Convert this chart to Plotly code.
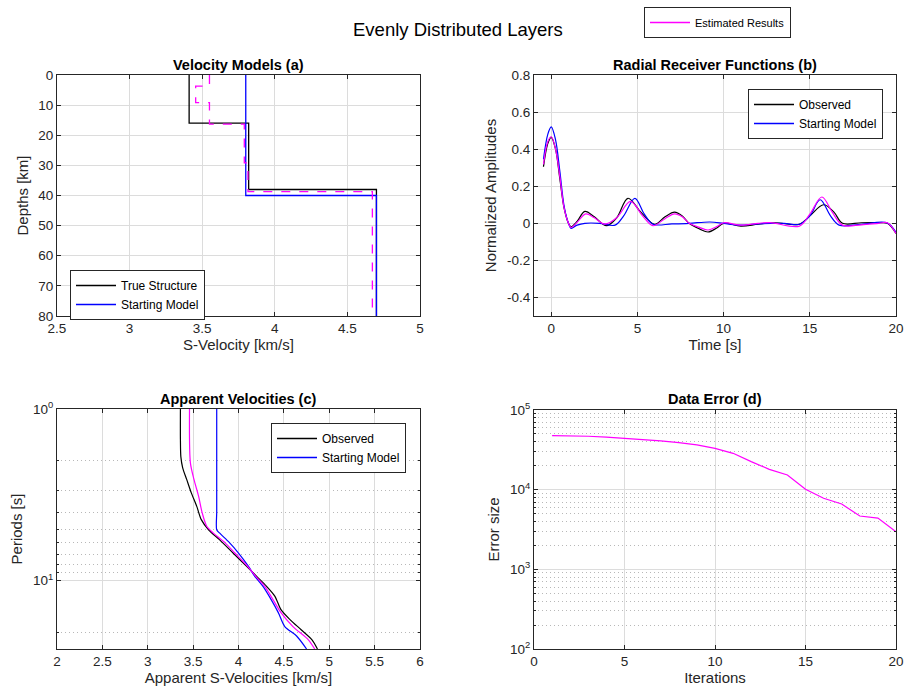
import plotly.graph_objects as go
import numpy as np

# ---------------- data ----------------
# (a) velocity models: layer tops [km] and S-velocities [km/s]
true_tops = [0, 16, 38]
true_vel = [3.41, 3.82, 4.70]
start_tops = [0, 40]
start_vel = [3.80, 4.70]
est_tops = [0, 3.7, 9.2, 16.3, 29.2, 38.7]
est_vel = [3.55, 3.455, 3.55, 3.79, 3.815, 4.672]
model_bottom = 80

# (b) radial receiver functions
obs_t = [-0.45, -0.2, 0.0, 0.25, 0.5, 0.75, 1.0, 1.15, 1.5, 1.95, 2.5, 3.2, 3.8, 4.45, 5.2, 6.0,
         6.6, 7.15, 7.6, 8.0, 8.6, 9.1, 9.6, 10.0, 11.0, 12.0, 13.0, 14.4, 15.0, 15.8, 16.4, 16.9,
         18.0, 19.0, 19.5, 20.0]
obs_a = [0.305, 0.43, 0.464, 0.40, 0.24, 0.08, 0.0, -0.018, 0.01, 0.064, 0.035, -0.013, 0.03, 0.135,
         0.06, -0.005, 0.035, 0.06, 0.04, 0.0, -0.03, -0.047, -0.025, 0.0, -0.015, -0.005, 0.003,
         -0.005, 0.04, 0.10, 0.06, 0.0, 0.003, 0.003, 0.0, -0.055]
start_t = [-0.45, -0.2, 0.0, 0.25, 0.5, 0.75, 1.0, 1.15, 1.5, 1.95, 2.8, 3.7, 4.2, 4.85, 5.4, 5.9,
           7.0, 8.0, 9.2, 10.0, 10.9, 12.0, 13.5, 14.4, 15.0, 15.6, 16.2, 16.7, 18.0, 19.5, 20.0]
start_a = [0.345, 0.48, 0.52, 0.45, 0.28, 0.09, 0.0, -0.027, -0.01, 0.0, 0.0, -0.01, 0.04, 0.135,
           0.05, -0.005, -0.003, 0.0, 0.007, 0.0, -0.01, -0.003, 0.0, -0.005, 0.04, 0.127, 0.04,
           -0.01, -0.005, 0.002, -0.05]
est_t = [-0.45, -0.2, 0.0, 0.25, 0.5, 0.75, 1.0, 1.15, 1.5, 2.0, 2.5, 3.1, 3.8, 4.6, 5.3, 5.9, 6.6,
         7.15, 7.6, 8.0, 8.6, 9.1, 9.6, 10.0, 11.0, 12.0, 12.7, 14.4, 15.0, 15.7, 16.3, 16.9, 18.0,
         19.0, 19.5, 20.0]
est_a = [0.318, 0.44, 0.467, 0.40, 0.25, 0.08, 0.0, -0.022, 0.005, 0.051, 0.03, -0.004, 0.03, 0.118,
         0.04, -0.013, 0.025, 0.051, 0.035, 0.0, -0.022, -0.036, -0.018, 0.003, -0.01, 0.0, 0.004,
         -0.015, 0.05, 0.142, 0.06, -0.01, -0.008, 0.0, 0.003, -0.055]

# (c) apparent velocities vs period
obs_P = [1, 1.5, 1.9, 2.2, 2.58, 3.08, 3.69, 4.41, 5.05, 5.77, 6.9, 8.25, 9.44, 10.8, 12.3, 14.8,
         16.9, 19.3, 22.1, 25]
obs_v = [3.36, 3.36, 3.365, 3.385, 3.43, 3.48, 3.54, 3.59, 3.67, 3.79, 3.94, 4.09, 4.20, 4.31,
         4.40, 4.47, 4.57, 4.69, 4.81, 4.87]
startc_P = [1, 2, 3, 4, 5.05, 5.27, 6.0, 6.9, 8.25, 9.44, 10.8, 12.9, 15.4, 18.5, 21, 25]
startc_v = [3.76, 3.76, 3.76, 3.76, 3.76, 3.79, 3.90, 4.00, 4.11, 4.18, 4.27, 4.36, 4.44, 4.51,
            4.64, 4.75]
estc_P = [1, 2.06, 2.58, 3.22, 4.03, 4.82, 5.27, 6.0, 6.9, 8.25, 9.44, 10.8, 12.9, 15.4, 18.5,
          22.1, 25]
estc_v = [3.46, 3.47, 3.51, 3.56, 3.60, 3.65, 3.72, 3.85, 3.96, 4.10, 4.19, 4.29, 4.38, 4.47, 4.60,
          4.77, 4.84]

# (d) data error
iters = list(range(1, 21))
err = [47700, 47400, 46800, 45700, 44200, 42800, 41000, 39000, 36500, 33000, 28600, 22500, 18000,
       15300, 10100, 7800, 6600, 4670, 4400, 2970]

# tick labels
a_xticks = [2.5, 3, 3.5, 4, 4.5, 5]
a_yticks = [0, 10, 20, 30, 40, 50, 60, 70, 80]
b_xticks = [0, 5, 10, 15, 20]
b_yticks = [-0.4, -0.2, 0, 0.2, 0.4, 0.6, 0.8]
b_yticktext = ["-0.4", "-0.2", "0", "0.2", "0.4", "0.6", "0.8"]
c_xticks = [2, 2.5, 3, 3.5, 4, 4.5, 5, 5.5, 6]
c_yticks = [1, 10]
c_yticktext = ["10<sup>0</sup>", "10<sup>1</sup>"]
c_yminor = [2, 3, 4, 5, 6, 7, 8, 9, 20]
d_xticks = [0, 5, 10, 15, 20]
d_yticks = [100, 1000, 10000, 100000]
d_yticktext = ["10<sup>2</sup>", "10<sup>3</sup>", "10<sup>4</sup>", "10<sup>5</sup>"]
d_yminor = [m * 10 ** e for e in (2, 3, 4) for m in range(2, 10)]

# ---------------- styling ----------------
W, H = 911, 689
BLACK, BLUE, MAG = "#000000", "#0000FF", "#FF00FF"
AX = "#262626"
GRID = "#DCDCDC"
MINOR = "#B8B8B8"
FONT = "Liberation Sans, Arial, Helvetica, sans-serif"
LW = 1.2


def px_x(p):
    return p / W


def px_y(p):
    return 1 - p / H


fig = go.Figure()


def step(tops, vel):
    return list(vel) + [vel[-1]], list(tops) + [model_bottom]


def legend_entry(name, color, legend, xa, ya, width=1.3):
    # legend-only entry (no data), keeps legend swatches styled like the curves
    fig.add_trace(go.Scatter(x=[None], y=[None], mode="lines", line=dict(color=color, width=width),
                             name=name, legend=legend, xaxis=xa, yaxis=ya, hoverinfo="skip"))


# legend entries first
legend_entry("True Structure", BLACK, "legend", "x", "y")
legend_entry("Starting Model", BLUE, "legend", "x", "y")
legend_entry("Observed", BLACK, "legend2", "x2", "y2")
legend_entry("Starting Model", BLUE, "legend2", "x2", "y2")
legend_entry("Observed", BLACK, "legend3", "x3", "y3")
legend_entry("Starting Model", BLUE, "legend3", "x3", "y3")
legend_entry("Estimated Results", MAG, "legend4", "x4", "y4")

# (a)
x, y = step(true_tops, true_vel)
fig.add_trace(go.Scatter(x=x, y=y, mode="lines", line=dict(color=BLACK, width=1.3, shape="vh"),
                         name="True Structure", showlegend=False, xaxis="x", yaxis="y"))
x, y = step(start_tops, start_vel)
fig.add_trace(go.Scatter(x=x, y=y, mode="lines", line=dict(color=BLUE, width=1.3, shape="vh"),
                         name="Starting Model", showlegend=False, xaxis="x", yaxis="y"))
x, y = step(est_tops, est_vel)
fig.add_trace(go.Scatter(x=x, y=y, mode="lines",
                         line=dict(color=MAG, width=1.3, shape="vh", dash="dash"),
                         name="Estimated Results", showlegend=False, xaxis="x", yaxis="y"))

# (b)
fig.add_trace(go.Scatter(x=obs_t, y=obs_a, mode="lines",
                         line=dict(color=BLACK, width=LW, shape="spline", smoothing=1),
                         name="Observed", showlegend=False, xaxis="x2", yaxis="y2"))
fig.add_trace(go.Scatter(x=start_t, y=start_a, mode="lines",
                         line=dict(color=BLUE, width=LW, shape="spline", smoothing=1),
                         name="Starting Model", showlegend=False, xaxis="x2", yaxis="y2"))
fig.add_trace(go.Scatter(x=est_t, y=est_a, mode="lines",
                         line=dict(color=MAG, width=LW, shape="spline", smoothing=1),
                         name="Estimated Results", showlegend=False, xaxis="x2", yaxis="y2"))

# (c)
fig.add_trace(go.Scatter(x=obs_v, y=obs_P, mode="lines",
                         line=dict(color=BLACK, width=LW, shape="spline", smoothing=0.8),
                         name="Observed", showlegend=False, xaxis="x3", yaxis="y3"))
fig.add_trace(go.Scatter(x=startc_v, y=startc_P, mode="lines",
                         line=dict(color=BLUE, width=LW, shape="spline", smoothing=0.8),
                         name="Starting Model", showlegend=False, xaxis="x3", yaxis="y3"))
fig.add_trace(go.Scatter(x=estc_v, y=estc_P, mode="lines",
                         line=dict(color=MAG, width=LW, shape="spline", smoothing=0.8),
                         name="Estimated Results", showlegend=False, xaxis="x3", yaxis="y3"))

# (d)
fig.add_trace(go.Scatter(x=iters, y=err, mode="lines", line=dict(color=MAG, width=LW),
                         name="Estimated Results", showlegend=False, xaxis="x4", yaxis="y4"))

common = dict(showline=True, linecolor=AX, linewidth=1, mirror="ticks", ticks="inside",
              ticklen=4, tickcolor=AX, showgrid=True, gridcolor=GRID, gridwidth=1,
              zeroline=False, automargin=False, tickfont=dict(size=13.5, color=AX, family=FONT),
              title_font=dict(size=15, color=AX, family=FONT))
minor_style = dict(showgrid=True, griddash="1px,3px", gridcolor=MINOR, gridwidth=1,
                   ticks="inside", ticklen=2, tickcolor=AX)

ax_l = [px_x(57), px_x(420)]
ax_r = [px_x(534), px_x(896)]
top_row = [px_y(316), px_y(75)]
bot_row = [px_y(649), px_y(409)]

fig.update_layout(
    xaxis=dict(common, domain=ax_l, anchor="y", range=[2.5, 5], tickvals=a_xticks,
               title=dict(text="S-Velocity [km/s]", standoff=4)),
    yaxis=dict(common, domain=top_row, anchor="x", range=[80, 0], tickvals=a_yticks,
               title=dict(text="Depths [km]", standoff=6)),
    xaxis2=dict(common, domain=ax_r, anchor="y2", range=[-1, 20], tickvals=b_xticks,
                title=dict(text="Time [s]", standoff=4)),
    yaxis2=dict(common, domain=top_row, anchor="x2", range=[-0.5, 0.8], tickvals=b_yticks,
                ticktext=b_yticktext, title=dict(text="Normalized Amplitudes", standoff=6)),
    xaxis3=dict(common, domain=ax_l, anchor="y3", range=[2, 6], tickvals=c_xticks,
                title=dict(text="Apparent S-Velocities [km/s]", standoff=4)),
    yaxis3=dict(common, domain=bot_row, anchor="x3", type="log",
                range=[np.log10(25), 0], tickvals=c_yticks, ticktext=c_yticktext,
                minor=dict(minor_style, tickvals=c_yminor),
                title=dict(text="Periods [s]", standoff=6)),
    xaxis4=dict(common, domain=ax_r, anchor="y4", range=[0, 20], tickvals=d_xticks,
                title=dict(text="Iterations", standoff=4)),
    yaxis4=dict(common, domain=[px_y(649), px_y(410)], anchor="x4", type="log",
                range=[2, 5], tickvals=d_yticks, ticktext=d_yticktext,
                minor=dict(minor_style, tickvals=d_yminor),
                title=dict(text="Error size", standoff=6)),
)

leg = dict(bgcolor="white", bordercolor=AX, borderwidth=1, font=dict(size=12, color=BLACK, family=FONT),
           itemwidth=40, tracegroupgap=0)
fig.update_layout(
    legend=dict(leg, x=px_x(70), y=px_y(270), xanchor="left", yanchor="top"),
    legend2=dict(leg, x=px_x(883), y=px_y(89), xanchor="right", yanchor="top"),
    legend3=dict(leg, x=px_x(406), y=px_y(423), xanchor="right", yanchor="top"),
    legend4=dict(leg, x=px_x(644), y=px_y(7), xanchor="left", yanchor="top",
                 font=dict(size=11, color=BLACK, family=FONT)),
)

titles = [("Velocity Models (a)", (57 + 420) / 2, 65),
          ("Radial Receiver Functions (b)", (534 + 896) / 2, 65),
          ("Apparent Velocities (c)", (57 + 420) / 2, 399),
          ("Data Error (d)", (534 + 896) / 2, 399)]
annotations = [dict(text="<b>%s</b>" % t, x=px_x(cx), y=px_y(cy), xref="paper", yref="paper",
                    xanchor="center", yanchor="middle", showarrow=False,
                    font=dict(size=14.5, color=BLACK, family=FONT)) for t, cx, cy in titles]
annotations.append(dict(text="Evenly Distributed Layers", x=px_x(457.5), y=px_y(29), xref="paper",
                        yref="paper", xanchor="center", yanchor="middle", showarrow=False,
                        font=dict(size=18.5, color=BLACK, family=FONT)))

fig.update_layout(width=W, height=H, autosize=False, margin=dict(l=0, r=0, t=0, b=0),
                  paper_bgcolor="white", plot_bgcolor="white", annotations=annotations,
                  font=dict(family=FONT, color=AX))

fig.write_html("out.html", config={"responsive": False},
               post_script="document.body.style.margin='0';document.body.style.padding='0';")
